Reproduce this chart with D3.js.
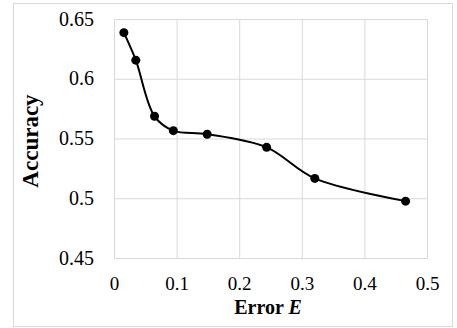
<!DOCTYPE html>
<html>
<head>
<meta charset="utf-8">
<script src="https://cdn.jsdelivr.net/npm/d3@7"></script>
<style>
  body { margin: 0; background: #fff; }
  svg text { font-family: "Liberation Serif", "Times New Roman", serif; fill: #000; }
</style>
</head>
<body>
<div id="chart"></div>
<script>
// data
const errorE = [0.015, 0.034, 0.064, 0.094, 0.148, 0.243, 0.320, 0.465]
const accuracy = [0.639, 0.616, 0.569, 0.557, 0.554, 0.543, 0.517, 0.498]
const xTicks = [0, 0.1, 0.2, 0.3, 0.4, 0.5]
const yTicks = [0.45, 0.5, 0.55, 0.6, 0.65]
const xTitle = "Error "
const xTitleVar = "E"
const yTitle = "Accuracy"

const W = 457, H = 328
let svg = d3.select("#chart").append("svg")
    .attr("width", W).attr("height", H)

// chart border
svg.append("rect")
    .attr("x", 13.5).attr("y", 3.5)
    .attr("width", 439).attr("height", 323)
    .attr("fill", "none").attr("stroke", "#d9d9d9")

let x = d3.scaleLinear().domain([0, 0.5]).range([114.5, 427.5])
let y = d3.scaleLinear().domain([0.45, 0.65]).range([258.5, 19.5])

// grid
svg.append("g").selectAll("line")
    .data(xTicks).enter().append("line")
    .attr("x1", d => x(d)).attr("x2", d => x(d))
    .attr("y1", y(0.45)).attr("y2", y(0.65))
    .attr("stroke", "#d9d9d9").attr("stroke-width", 1)
svg.append("g").selectAll("line")
    .data(yTicks).enter().append("line")
    .attr("x1", x(0)).attr("x2", x(0.5))
    .attr("y1", d => y(d)).attr("y2", d => y(d))
    .attr("stroke", "#d9d9d9").attr("stroke-width", 1)

// tick labels
svg.append("g").selectAll("text")
    .data(yTicks).enter().append("text")
    .attr("x", 94).attr("y", d => y(d) + 6)
    .attr("text-anchor", "end")
    .style("font-size", "20px").style("font-weight", "normal")
    .text(d => d)
svg.append("g").selectAll("text")
    .data(xTicks).enter().append("text")
    .attr("x", d => x(d)).attr("y", 290)
    .attr("text-anchor", "middle")
    .style("font-size", "19px").style("font-weight", "normal")
    .text(d => d)

// axis titles
let xt = svg.append("text")
    .attr("x", 268).attr("y", 314)
    .attr("text-anchor", "middle")
    .style("font-size", "20px").style("font-weight", "bold")
xt.append("tspan").text(xTitle)
xt.append("tspan").style("font-style", "italic").text(xTitleVar)

svg.append("text")
    .attr("transform", "translate(38,141) rotate(-90)")
    .attr("text-anchor", "middle")
    .style("font-size", "23px").style("font-weight", "bold")
    .text(yTitle)

// series
let pts = errorE.map((e, i) => [e, accuracy[i]])
let line = d3.line()
    .x(d => x(d[0])).y(d => y(d[1]))
    .curve(d3.curveCatmullRom.alpha(0.5))
svg.append("path")
    .attr("d", line(pts))
    .attr("fill", "none").attr("stroke", "#000").attr("stroke-width", 2)
svg.append("g").selectAll("circle")
    .data(pts).enter().append("circle")
    .attr("cx", d => x(d[0])).attr("cy", d => y(d[1]))
    .attr("r", 4.5).attr("fill", "#000")
</script>
</body>
</html>
